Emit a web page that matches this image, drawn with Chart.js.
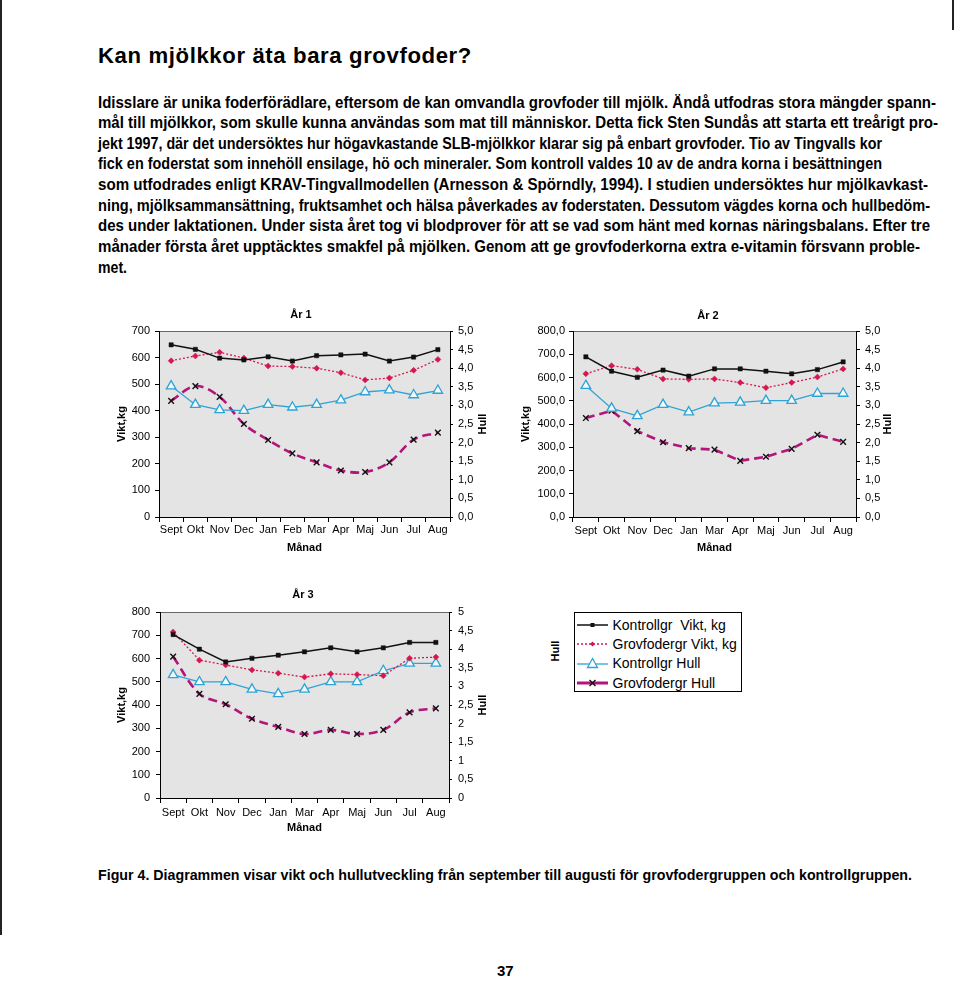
<!DOCTYPE html>
<html><head><meta charset="utf-8">
<script src="https://cdn.jsdelivr.net/npm/chart.js@4.4.1/dist/chart.umd.min.js"></script>
<style>
html,body{margin:0;padding:0;background:#fff;}
body{width:960px;height:1005px;position:relative;overflow:hidden;font-family:"Liberation Sans",Arial,Helvetica,sans-serif;color:#000;}
.abs{position:absolute;white-space:nowrap;}
.fit{transform-origin:0 0;display:inline-block;}
.para{font-weight:bold;font-size:16px;line-height:20px;height:20px;left:98px;}
canvas{position:absolute;}
#legend{position:absolute;left:574px;top:612px;width:168px;height:80px;box-sizing:border-box;border:1.5px solid #000;background:#fff;}
.lrow{position:absolute;left:0;height:18px;line-height:18px;font-size:14px;white-space:nowrap;}
.lrow svg{position:absolute;left:1.5px;top:2px;}
.lrow span{position:absolute;left:37.5px;top:0;}
</style></head><body>
<div class="abs" style="left:0;top:0;width:1.5px;height:935px;background:#222"></div>
<div class="abs" style="left:952px;top:0;width:1.5px;height:30px;background:#222"></div>

<div class="abs fit" data-w="374" style="left:98px;top:43px;font-size:22px;line-height:26px;font-weight:bold;letter-spacing:0.6px">Kan mjölkkor äta bara grovfoder?</div>

<div class="abs fit para" data-w="838" style="top:92.5px">Idisslare är unika foderförädlare, eftersom de kan omvandla grovfoder till mjölk. Ändå utfodras stora mängder spann-</div>
<div class="abs fit para" data-w="840" style="top:113.1px">mål till mjölkkor, som skulle kunna användas som mat till människor. Detta fick Sten Sundås att starta ett treårigt pro-</div>
<div class="abs fit para" data-w="784" style="top:133.7px">jekt 1997, där det undersöktes hur högavkastande SLB-mjölkkor klarar sig på enbart grovfoder. Tio av Tingvalls kor</div>
<div class="abs fit para" data-w="784" style="top:154.4px">fick en foderstat som innehöll ensilage, hö och mineraler. Som kontroll valdes 10 av de andra korna i besättningen</div>
<div class="abs fit para" data-w="830" style="top:175px">som utfodrades enligt KRAV-Tingvallmodellen (Arnesson &amp; Spörndly, 1994). I studien undersöktes hur mjölkavkast-</div>
<div class="abs fit para" data-w="832" style="top:195.6px">ning, mjölksammansättning, fruktsamhet och hälsa påverkades av foderstaten. Dessutom vägdes korna och hullbedöm-</div>
<div class="abs fit para" data-w="832" style="top:216.2px">des under laktationen. Under sista året tog vi blodprover för att se vad som hänt med kornas näringsbalans. Efter tre</div>
<div class="abs fit para" data-w="822" style="top:236.9px">månader första året upptäcktes smakfel på mjölken. Genom att ge grovfoderkorna extra e-vitamin försvann proble-</div>
<div class="abs fit para" data-w="29" style="top:257.5px">met.</div>

<canvas id="c1" width="400" height="260" style="left:100px;top:300px;width:400px;height:260px"></canvas>
<canvas id="c2" width="420" height="260" style="left:510px;top:300px;width:420px;height:260px"></canvas>
<canvas id="c3" width="400" height="260" style="left:100px;top:580px;width:400px;height:260px"></canvas>

<div class="abs" style="left:540px;top:645px;width:30px;height:12px;line-height:12px;text-align:center;font-size:11px;font-weight:bold;transform:rotate(-90deg)">Hull</div>
<div id="legend">
  <div class="lrow" style="top:2.7px"><svg width="31" height="14"><line x1="0" y1="7" x2="31" y2="7" stroke="#111" stroke-width="1.5"/><rect x="13.5" y="5" width="4" height="4" fill="#111"/></svg><span>Kontrollgr&nbsp; Vikt, kg</span></div>
  <div class="lrow" style="top:21.7px"><svg width="31" height="14"><line x1="0" y1="7" x2="31" y2="7" stroke="#d6174f" stroke-width="1.3" stroke-dasharray="2,2"/><polygon points="15.5,4.5 18,7 15.5,9.5 13,7" fill="#d6174f"/></svg><span>Grovfodergr Vikt, kg</span></div>
  <div class="lrow" style="top:40.7px"><svg width="31" height="14"><line x1="0" y1="8" x2="31" y2="8" stroke="#2ea3d5" stroke-width="1.3"/><polygon points="15.5,2.5 20.5,11.5 10.5,11.5" fill="#fff" stroke="#2ea3d5" stroke-width="1.3"/></svg><span>Kontrollgr Hull</span></div>
  <div class="lrow" style="top:60.7px"><svg width="31" height="14"><line x1="0" y1="7" x2="31" y2="7" stroke="#b3157a" stroke-width="3"/><line x1="12.5" y1="4" x2="18.5" y2="10" stroke="#111" stroke-width="1.4"/><line x1="18.5" y1="4" x2="12.5" y2="10" stroke="#111" stroke-width="1.4"/></svg><span>Grovfodergr Hull</span></div>
</div>

<div class="abs fit" data-w="814" style="left:98px;top:866px;font-size:14px;line-height:18px;font-weight:bold">Figur 4. Diagrammen visar vikt och hullutveckling från september till augusti för grovfodergruppen och kontrollgruppen.</div>
<div class="abs" style="left:497px;top:962px;font-size:15px;line-height:18px;font-weight:bold">37</div>

<script>
// ---- data ----
const monthsYear1 = ['Sept','Okt','Nov','Dec','Jan','Feb','Mar','Apr','Maj','Jun','Jul','Aug'];
const monthsYear2 = ['Sept','Okt','Nov','Dec','Jan','Mar','Apr','Maj','Jun','Jul','Aug'];
const monthsYear3 = ['Sept','Okt','Nov','Dec','Jan','Mar','Apr','Maj','Jun','Jul','Aug'];

const y1KontrollVikt = [648,631,598,591,603,587,607,610,613,587,602,630];
const y1GrovVikt     = [588,606,620,598,568,566,560,543,516,523,552,593];
const y1KontrollHull = [3.52,3.02,2.88,2.86,3.02,2.95,3.02,3.14,3.36,3.41,3.28,3.40];
const y1GrovHull     = [3.12,3.52,3.23,2.50,2.07,1.71,1.47,1.25,1.21,1.47,2.08,2.27];

const y2KontrollVikt = [689,627,601,632,606,637,637,627,616,634,667];
const y2GrovVikt     = [616,651,635,594,592,594,578,556,578,602,637];
const y2KontrollHull = [3.53,2.92,2.72,3.02,2.82,3.06,3.08,3.13,3.13,3.32,3.32];
const y2GrovHull     = [2.66,2.86,2.31,2.01,1.85,1.81,1.51,1.62,1.83,2.21,2.02];

const y3KontrollVikt = [703,640,585,601,614,629,646,629,646,669,669];
const y3GrovVikt     = [714,593,572,551,537,520,534,531,526,601,606];
const y3KontrollHull = [3.31,3.12,3.12,2.92,2.80,2.92,3.12,3.12,3.42,3.62,3.62];
const y3GrovHull     = [3.80,2.80,2.52,2.13,1.91,1.72,1.83,1.72,1.83,2.30,2.41];

const viktTicks700    = ['0','100','200','300','400','500','600','700'];
const viktTicks800dec = ['0,0','100,0','200,0','300,0','400,0','500,0','600,0','700,0','800,0'];
const viktTicks800    = ['0','100','200','300','400','500','600','700','800'];
const hullTicksDec    = ['0,0','0,5','1,0','1,5','2,0','2,5','3,0','3,5','4,0','4,5','5,0'];
const hullTicks       = ['0','0,5','1','1,5','2','2,5','3','3,5','4','4,5','5'];

const seriesNames = ['Kontrollgr  Vikt, kg','Grovfodergr Vikt, kg','Kontrollgr Hull','Grovfodergr Hull'];

// ---- styles ----
const BLACK='#111', RED='#d6174f', CYAN='#2ea3d5', MAG='#b3157a';
Chart.defaults.font.family = '"Liberation Sans", Arial, sans-serif';
Chart.defaults.color = '#000';

function fitText(){
  document.querySelectorAll('.fit').forEach(el=>{
    el.style.transform='none';
    const nat=el.getBoundingClientRect().width;
    const w=parseFloat(el.dataset.w);
    if(nat>0) el.style.transform='scaleX('+(w/nat)+')';
  });
}
fitText();
if(document.fonts) document.fonts.ready.then(fitText);

const decor = {
  id:'decor',
  beforeDraw(chart, args, o){
    const {ctx, chartArea:a} = chart;
    ctx.save();
    ctx.fillStyle='#e4e4e4';
    ctx.fillRect(a.left, a.top, a.right-a.left, a.bottom-a.top);
    ctx.strokeStyle='#666'; ctx.lineWidth=1;
    ctx.beginPath(); ctx.moveTo(a.left, a.top+0.5); ctx.lineTo(a.right, a.top+0.5); ctx.stroke();
    ctx.restore();
  },
  afterDraw(chart, args, o){
    const {ctx, chartArea:a} = chart;
    ctx.save();
    ctx.fillStyle='#000';
    ctx.textAlign='center'; ctx.textBaseline='middle';
    ctx.font='bold 11px "Liberation Sans", Arial, sans-serif';
    ctx.fillText(o.title, o.titleX, o.titleY);
    ctx.translate(o.hullX, (a.top+a.bottom)/2);
    ctx.rotate(-Math.PI/2);
    ctx.font='bold 11px "Liberation Sans", Arial, sans-serif';
    ctx.fillText('Hull', 0, 0);
    ctx.restore();
  }
};

function buildDatasets(kv, gv, kh, gh, smooth){
  return [
    {label:seriesNames[0], data:kv, yAxisID:'y', borderColor:BLACK, backgroundColor:BLACK, borderWidth:1.5,
     pointStyle:'rect', pointRadius:3, pointBackgroundColor:BLACK, pointBorderColor:BLACK, pointBorderWidth:0.5, tension:0},
    {label:seriesNames[1], data:gv, yAxisID:'y', borderColor:RED, backgroundColor:RED, borderWidth:1.3, borderDash:[2,2],
     pointStyle:'rectRot', pointRadius:3, pointBackgroundColor:RED, pointBorderColor:RED, pointBorderWidth:0.5, tension:0},
    {label:seriesNames[2], data:kh, yAxisID:'y1', borderColor:CYAN, backgroundColor:CYAN, borderWidth:1.3,
     pointStyle:'triangle', pointRadius:5.5, pointBackgroundColor:'#f3f7f9', pointBorderColor:CYAN, pointBorderWidth:1.3, tension:0},
    {label:seriesNames[3], data:gh, yAxisID:'y1', borderColor:MAG, backgroundColor:MAG, borderWidth:2.6, borderDash:[9,5],
     pointStyle:'crossRot', pointRadius:4, pointBorderColor:BLACK, pointBorderWidth:1.4, tension: smooth?0.35:0}
  ];
}

function makeChart(id, labels, sets, g){
  const tickFont={size:11};
  return new Chart(document.getElementById(id), {
    type:'line',
    data:{labels:labels, datasets:sets},
    plugins:[decor],
    options:{
      responsive:false, animation:false,
      layout:{padding:{top:g.top,left:0,right:0,bottom:0}},
      plugins:{legend:{display:false}, tooltip:{enabled:false}, title:{display:false},
        decor:{title:g.title, titleX:g.titleX, titleY:g.titleY, hullX:g.hullX}},
      scales:{
        x:{type:'category', offset:true,
           grid:{offset:true, drawOnChartArea:false, drawTicks:true, tickLength:5, color:'#000', lineWidth:1},
           border:{display:true, color:'#000', width:1},
           ticks:{font:tickFont, padding:g.xPad, autoSkip:false, maxRotation:0, minRotation:0},
           title:{display:true, text:'Månad', font:{size:11, weight:'bold'}, padding:{top:0,bottom:5.4}},
           afterFit(s){ s.height=g.bottom; }},
        y:{type:'linear', position:'left', min:0, max:g.vMax,
           grid:{drawOnChartArea:false, drawTicks:true, tickLength:g.lt[0], color:'#000', lineWidth:1},
           border:{display:true, color:'#000', width:1},
           ticks:{stepSize:100, autoSkip:false, font:tickFont, padding:g.lt[1], callback:(v,i)=>g.vTicks[i]},
           title:{display:true, text:'Vikt,kg', font:{size:11, weight:'bold'}, padding:{top:g.yTitlePad, bottom:0}},
           afterFit(s){ s.width=g.left; }},
        y1:{type:'linear', position:'right', min:0, max:5,
           grid:{drawOnChartArea:false, drawTicks:true, tickLength:g.rt[0], color:'#000', lineWidth:1},
           border:{display:true, color:'#000', width:1},
           ticks:{stepSize:0.5, autoSkip:false, font:tickFont, padding:g.rt[1], callback:(v,i)=>g.hTicks[i]},
           afterFit(s){ s.width=g.right; }}
      }
    }
  });
}

makeChart('c1', monthsYear1, buildDatasets(y1KontrollVikt, y1GrovVikt, y1KontrollHull, y1GrovHull, true),
  {top:31, bottom:43, left:59, right:50, lt:[4,5], rt:[3,5], xPad:1.4, yTitlePad:15.4, vMax:700,
   vTicks:viktTicks700, hTicks:hullTicksDec, title:'År 1', titleX:201, titleY:15, hullX:383});
makeChart('c2', monthsYear2, buildDatasets(y2KontrollVikt, y2GrovVikt, y2KontrollHull, y2GrovHull, false),
  {top:31, bottom:43, left:63, right:74, lt:[4,4], rt:[4,5], xPad:2.4, yTitlePad:9.4, vMax:800,
   vTicks:viktTicks800dec, hTicks:hullTicksDec, title:'År 2', titleX:198, titleY:16, hullX:378});
makeChart('c3', monthsYear3, buildDatasets(y3KontrollVikt, y3GrovVikt, y3KontrollHull, y3GrovHull, true),
  {top:32, bottom:42, left:60, right:51, lt:[4,6], rt:[3,6], xPad:3.4, yTitlePad:15.4, vMax:800,
   vTicks:viktTicks800, hTicks:hullTicks, title:'År 3', titleX:203, titleY:15, hullX:383});
</script>
</body></html>
